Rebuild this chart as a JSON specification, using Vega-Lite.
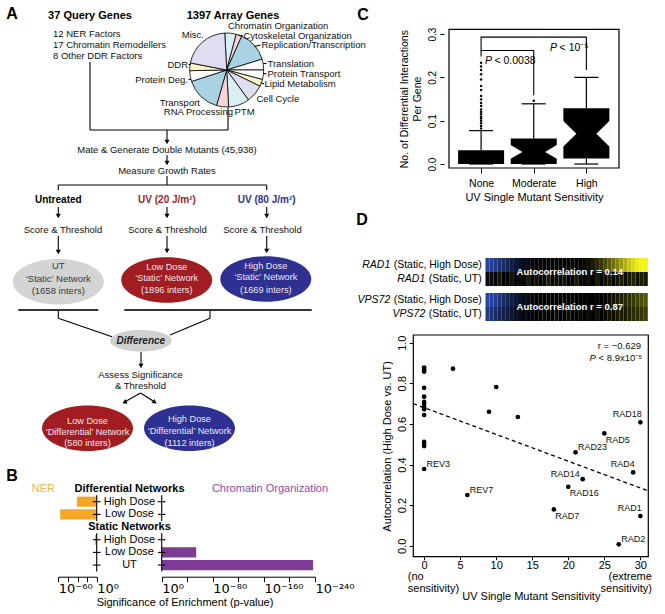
{
"$schema": "https://vega.github.io/schema/vega-lite/v6.json",
"width": 665,
"height": 614,
"autosize": {"type": "none"},
"padding": 0,
"background": "#ffffff",
"config": {
  "font": "Liberation Sans",
  "view": {"stroke": null},
  "axis": {"grid": false, "labelColor": "#000000", "tickColor": "#000000", "domainColor": "#000000", "titleColor": "#000000", "titleFontWeight": "normal", "tickWidth": 1, "domainWidth": 1, "labelFont": "Liberation Sans", "titleFont": "Liberation Sans"},
  "text": {"baseline": "middle", "font": "Liberation Sans"}
},
"resolve": {"scale": {"x": "independent", "y": "independent", "color": "independent", "fill": "independent"}, "axis": {"x": "independent", "y": "independent"}},
"datasets": {
  "pie": [
    {"cat": "Chromatin Organization", "deg": 18, "o": 1},
    {"cat": "Cytoskeletal Organization", "deg": 9, "o": 2},
    {"cat": "Replication/Transcription", "deg": 49, "o": 3},
    {"cat": "Translation", "deg": 17, "o": 4},
    {"cat": "Protein Transport", "deg": 15, "o": 5},
    {"cat": "Lipid Metabolism", "deg": 11, "o": 6},
    {"cat": "Cell Cycle", "deg": 28, "o": 7},
    {"cat": "PTM", "deg": 33, "o": 8},
    {"cat": "RNA Processing", "deg": 19, "o": 9},
    {"cat": "Transport", "deg": 56, "o": 10},
    {"cat": "Protein Deg.", "deg": 17, "o": 11},
    {"cat": "DDR", "deg": 12, "o": 12},
    {"cat": "Misc.", "deg": 76, "o": 13}
  ],
  "flow": [
    {"x": 90, "y": 62, "x2": 90, "y2": 130},
    {"x": 90, "y": 130, "x2": 228, "y2": 130},
    {"x": 228, "y": 107.5, "x2": 228, "y2": 130},
    {"x": 167, "y": 130, "x2": 167, "y2": 140},
    {"x": 167, "y": 155, "x2": 167, "y2": 161},
    {"x": 167, "y": 176, "x2": 167, "y2": 185},
    {"x": 58.3, "y": 185, "x2": 266.7, "y2": 185},
    {"x": 58.3, "y": 185, "x2": 58.3, "y2": 190},
    {"x": 266.7, "y": 185, "x2": 266.7, "y2": 190},
    {"x": 58.3, "y": 207, "x2": 58.3, "y2": 214},
    {"x": 167, "y": 207, "x2": 167, "y2": 214},
    {"x": 266.7, "y": 207, "x2": 266.7, "y2": 214},
    {"x": 58.3, "y": 236, "x2": 58.3, "y2": 250},
    {"x": 167, "y": 236, "x2": 167, "y2": 249},
    {"x": 266.7, "y": 236, "x2": 266.7, "y2": 249},
    {"x": 58.3, "y": 310, "x2": 58.3, "y2": 318.3},
    {"x": 58.3, "y": 318.3, "x2": 112, "y2": 336.7},
    {"x": 210, "y": 310, "x2": 210, "y2": 318.3},
    {"x": 210, "y": 318.3, "x2": 170, "y2": 335},
    {"x": 141, "y": 352, "x2": 141, "y2": 364},
    {"x": 140.5, "y": 393, "x2": 125, "y2": 401.7},
    {"x": 140.5, "y": 393, "x2": 154, "y2": 401.5},
    {"x": 238.5, "y": 35.5, "x2": 242.5, "y2": 35.5},
    {"x": 254.5, "y": 46.5, "x2": 260.5, "y2": 45},
    {"x": 263.3, "y": 63.5, "x2": 266.5, "y2": 63.5},
    {"x": 263.5, "y": 73.5, "x2": 266.5, "y2": 74},
    {"x": 261.5, "y": 83, "x2": 264, "y2": 84},
    {"x": 188.5, "y": 64.5, "x2": 190.5, "y2": 64.5},
    {"x": 188.5, "y": 79.5, "x2": 191, "y2": 79.5}
  ],
  "thick": [
    {"x": 18.3, "y": 310, "x2": 98.3, "y2": 310},
    {"x": 124.3, "y": 310, "x2": 311.7, "y2": 310}
  ],
  "heads": [
    {"x": 167, "y": 142}, {"x": 167, "y": 163},
    {"x": 58.3, "y": 216}, {"x": 167, "y": 216}, {"x": 266.7, "y": 216},
    {"x": 58.3, "y": 252}, {"x": 167, "y": 251}, {"x": 266.7, "y": 251},
    {"x": 141, "y": 366}
  ],
  "ell": [
    {"k": "UT", "x": 58.3, "y": 281.7},
    {"k": "low", "x": 166.7, "y": 280},
    {"k": "high", "x": 265.8, "y": 279},
    {"k": "low", "x": 87.5, "y": 428.3},
    {"k": "high", "x": 189.5, "y": 428.3}
  ],
  "tC": [
    {"x": 167, "y": 150, "t": "Mate & Generate Double Mutants (45,938)"},
    {"x": 167, "y": 171, "t": "Measure Growth Rates"},
    {"x": 63, "y": 230, "t": "Score & Threshold"},
    {"x": 167.5, "y": 230, "t": "Score & Threshold"},
    {"x": 262.5, "y": 230, "t": "Score & Threshold"},
    {"x": 140.5, "y": 375, "t": "Assess Significance"},
    {"x": 140.5, "y": 386, "t": "& Threshold"}
  ],
  "tUT": [
    {"x": 58.3, "y": 266, "t": "UT"},
    {"x": 58.3, "y": 278.5, "t": "‘Static’ Network"},
    {"x": 58.3, "y": 291, "t": "(1658 inters)"}
  ],
  "tL": [
    {"x": 53, "y": 34, "t": "12 NER Factors"},
    {"x": 53, "y": 45, "t": "17 Chromatin Remodellers"},
    {"x": 53, "y": 56, "t": "8 Other DDR Factors"},
    {"x": 228, "y": 26, "t": "Chromatin Organization"},
    {"x": 243.5, "y": 35.5, "t": "Cytoskeletal Organization"},
    {"x": 261.5, "y": 45, "t": "Replication/Transcription"},
    {"x": 267.5, "y": 63.5, "t": "Translation"},
    {"x": 267.5, "y": 74, "t": "Protein Transport"},
    {"x": 264.5, "y": 84, "t": "Lipid Metabolism"},
    {"x": 256.5, "y": 98.5, "t": "Cell Cycle"},
    {"x": 234.5, "y": 112, "t": "PTM"}
  ],
  "tR": [
    {"x": 233, "y": 112, "t": "RNA Processing"},
    {"x": 200, "y": 102.5, "t": "Transport"},
    {"x": 188, "y": 79.5, "t": "Protein Deg."},
    {"x": 188, "y": 64.5, "t": "DDR"},
    {"x": 204, "y": 35, "t": "Misc."}
  ],
  "tW": [
    {"x": 166.7, "y": 266.7, "t": "Low Dose"},
    {"x": 166.7, "y": 278.3, "t": "‘Static’ Network"},
    {"x": 166.7, "y": 290, "t": "(1896 inters)"},
    {"x": 265.8, "y": 265.7, "t": "High Dose"},
    {"x": 265.8, "y": 277.3, "t": "‘Static’ Network"},
    {"x": 265.8, "y": 289.5, "t": "(1669 inters)"},
    {"x": 87.5, "y": 421, "t": "Low Dose"},
    {"x": 87.5, "y": 432.3, "t": "‘Differential’ Network"},
    {"x": 87.5, "y": 443.3, "t": "(580 inters)"},
    {"x": 189.5, "y": 419.3, "t": "High Dose"},
    {"x": 189.5, "y": 430.7, "t": "‘Differential’ Network"},
    {"x": 189.5, "y": 442.5, "t": "(1112 inters)"}
  ],
  "cond": [
    {"x": 58.3, "y": 200, "t": "Untreated"},
    {"x": 167, "y": 200, "t": "UV (20 J/m²)"},
    {"x": 266.7, "y": 200, "t": "UV (80 J/m²)"}
  ],
  "heads2": [
    {"x": 90, "y": 16, "t": "37 Query Genes"},
    {"x": 233, "y": 16, "t": "1397 Array Genes"}
  ],
  "letters": [
    {"x": 12, "y": 14, "t": "A"},
    {"x": 12, "y": 476, "t": "B"},
    {"x": 363, "y": 15, "t": "C"},
    {"x": 362, "y": 220, "t": "D"}
  ],
  "ner": [
    {"row": "dH", "lp": -31}, {"row": "dL", "lp": -57}, {"row": "sH", "lp": -2.5}, {"row": "sL", "lp": 0}, {"row": "UT", "lp": 0}
  ],
  "chrom": [
    {"row": "dH", "lp": 0}, {"row": "dL", "lp": 0}, {"row": "sH", "lp": 0}, {"row": "sL", "lp": -54}, {"row": "UT", "lp": -237}
  ],
  "box": [
    {"g": 1, "q1": 0, "q3": 0.032, "med": 0, "lo": 0, "hi": 0.077},
    {"g": 2, "q1": 0, "q3": 0.059, "med": 0.028, "lo": 0, "hi": 0.139},
    {"g": 3, "q1": 0.013, "q3": 0.129, "med": 0.07, "lo": 0, "hi": 0.2}
  ],
  "out": [
    {"g": 1, "v": 0.234}, {"g": 1, "v": 0.225}, {"g": 1, "v": 0.217}, {"g": 1, "v": 0.207}, {"g": 1, "v": 0.195},
    {"g": 1, "v": 0.18}, {"g": 1, "v": 0.171}, {"g": 1, "v": 0.157}, {"g": 1, "v": 0.149}, {"g": 1, "v": 0.141},
    {"g": 1, "v": 0.134}, {"g": 1, "v": 0.126}, {"g": 1, "v": 0.12}, {"g": 1, "v": 0.115}, {"g": 1, "v": 0.109},
    {"g": 1, "v": 0.105}, {"g": 1, "v": 0.1}, {"g": 1, "v": 0.094}, {"g": 1, "v": 0.088}, {"g": 1, "v": 0.082},
    {"g": 2, "v": 0.146}
  ],
  "brk": [
    {"b": "a", "o": 1, "x": 1, "y": 0.262}, {"b": "a", "o": 2, "x": 1, "y": 0.293}, {"b": "a", "o": 3, "x": 3, "y": 0.293}, {"b": "a", "o": 4, "x": 3, "y": 0.217},
    {"b": "b", "o": 1, "x": 1, "y": 0.248}, {"b": "b", "o": 2, "x": 1, "y": 0.262}, {"b": "b", "o": 3, "x": 2, "y": 0.262}, {"b": "b", "o": 4, "x": 2, "y": 0.159}
  ],
  "ptxt": [
    {"x": 1.072, "y": 0.238, "t": "< 0.0038"},
    {"x": 2.311, "y": 0.267, "t": "< 10⁻⁵"}
  ],
  "lab": [
    {"g": "RAD1", "c": "High", "name": "RAD1", "suf": "(Static, High Dose)"},
    {"g": "RAD1", "c": "UT", "name": "RAD1", "suf": "(Static, UT)"},
    {"g": "VPS72", "c": "High", "name": "VPS72", "suf": "(Static, High Dose)"},
    {"g": "VPS72", "c": "UT", "name": "VPS72", "suf": "(Static, UT)"}
  ],
  "hm": [
    {"g":"RAD1","c":"High","i":0,"v":-0.95},{"g":"RAD1","c":"High","i":1,"v":-0.9},{"g":"RAD1","c":"High","i":2,"v":-0.8},{"g":"RAD1","c":"High","i":3,"v":-0.7},{"g":"RAD1","c":"High","i":4,"v":-0.6},
    {"g":"RAD1","c":"High","i":5,"v":-0.5},{"g":"RAD1","c":"High","i":6,"v":-0.4},{"g":"RAD1","c":"High","i":7,"v":-0.32},{"g":"RAD1","c":"High","i":8,"v":-0.25},{"g":"RAD1","c":"High","i":9,"v":-0.18},
    {"g":"RAD1","c":"High","i":10,"v":-0.12},{"g":"RAD1","c":"High","i":11,"v":-0.07},{"g":"RAD1","c":"High","i":12,"v":-0.03},{"g":"RAD1","c":"High","i":13,"v":0},{"g":"RAD1","c":"High","i":14,"v":0},
    {"g":"RAD1","c":"High","i":15,"v":0},{"g":"RAD1","c":"High","i":16,"v":0},{"g":"RAD1","c":"High","i":17,"v":0},{"g":"RAD1","c":"High","i":18,"v":0},{"g":"RAD1","c":"High","i":19,"v":0},
    {"g":"RAD1","c":"High","i":20,"v":0},{"g":"RAD1","c":"High","i":21,"v":0},{"g":"RAD1","c":"High","i":22,"v":0},{"g":"RAD1","c":"High","i":23,"v":0},{"g":"RAD1","c":"High","i":24,"v":0.03},
    {"g":"RAD1","c":"High","i":25,"v":0.07},{"g":"RAD1","c":"High","i":26,"v":0.12},{"g":"RAD1","c":"High","i":27,"v":0.17},{"g":"RAD1","c":"High","i":28,"v":0.23},{"g":"RAD1","c":"High","i":29,"v":0.3},
    {"g":"RAD1","c":"High","i":30,"v":0.38},{"g":"RAD1","c":"High","i":31,"v":0.46},{"g":"RAD1","c":"High","i":32,"v":0.55},{"g":"RAD1","c":"High","i":33,"v":0.64},{"g":"RAD1","c":"High","i":34,"v":0.73},
    {"g":"RAD1","c":"High","i":35,"v":0.82},{"g":"RAD1","c":"High","i":36,"v":0.9},{"g":"RAD1","c":"High","i":37,"v":0.96},{"g":"RAD1","c":"High","i":38,"v":1},{"g":"RAD1","c":"High","i":39,"v":1},
    {"g":"RAD1","c":"UT","i":0,"v":-0.12},{"g":"RAD1","c":"UT","i":1,"v":0.05},{"g":"RAD1","c":"UT","i":2,"v":-0.08},{"g":"RAD1","c":"UT","i":3,"v":0.1},{"g":"RAD1","c":"UT","i":4,"v":0},
    {"g":"RAD1","c":"UT","i":5,"v":-0.06},{"g":"RAD1","c":"UT","i":6,"v":0.08},{"g":"RAD1","c":"UT","i":7,"v":-0.1},{"g":"RAD1","c":"UT","i":8,"v":0.04},{"g":"RAD1","c":"UT","i":9,"v":0},
    {"g":"RAD1","c":"UT","i":10,"v":0.1},{"g":"RAD1","c":"UT","i":11,"v":-0.05},{"g":"RAD1","c":"UT","i":12,"v":0.06},{"g":"RAD1","c":"UT","i":13,"v":0},{"g":"RAD1","c":"UT","i":14,"v":-0.08},
    {"g":"RAD1","c":"UT","i":15,"v":0.12},{"g":"RAD1","c":"UT","i":16,"v":0},{"g":"RAD1","c":"UT","i":17,"v":0.05},{"g":"RAD1","c":"UT","i":18,"v":-0.1},{"g":"RAD1","c":"UT","i":19,"v":0.08},
    {"g":"RAD1","c":"UT","i":20,"v":0},{"g":"RAD1","c":"UT","i":21,"v":-0.06},{"g":"RAD1","c":"UT","i":22,"v":0.1},{"g":"RAD1","c":"UT","i":23,"v":0.03},{"g":"RAD1","c":"UT","i":24,"v":-0.08},
    {"g":"RAD1","c":"UT","i":25,"v":0.07},{"g":"RAD1","c":"UT","i":26,"v":0},{"g":"RAD1","c":"UT","i":27,"v":0.12},{"g":"RAD1","c":"UT","i":28,"v":-0.05},{"g":"RAD1","c":"UT","i":29,"v":0.06},
    {"g":"RAD1","c":"UT","i":30,"v":0.1},{"g":"RAD1","c":"UT","i":31,"v":-0.04},{"g":"RAD1","c":"UT","i":32,"v":0.08},{"g":"RAD1","c":"UT","i":33,"v":0.12},{"g":"RAD1","c":"UT","i":34,"v":0.05},
    {"g":"RAD1","c":"UT","i":35,"v":0.1},{"g":"RAD1","c":"UT","i":36,"v":0.14},{"g":"RAD1","c":"UT","i":37,"v":0.08},{"g":"RAD1","c":"UT","i":38,"v":0.12},{"g":"RAD1","c":"UT","i":39,"v":0.1},
    {"g":"VPS72","c":"High","i":0,"v":-1},{"g":"VPS72","c":"High","i":1,"v":-0.95},{"g":"VPS72","c":"High","i":2,"v":-0.85},{"g":"VPS72","c":"High","i":3,"v":-0.72},{"g":"VPS72","c":"High","i":4,"v":-0.6},
    {"g":"VPS72","c":"High","i":5,"v":-0.5},{"g":"VPS72","c":"High","i":6,"v":-0.4},{"g":"VPS72","c":"High","i":7,"v":-0.32},{"g":"VPS72","c":"High","i":8,"v":-0.25},{"g":"VPS72","c":"High","i":9,"v":-0.18},
    {"g":"VPS72","c":"High","i":10,"v":-0.12},{"g":"VPS72","c":"High","i":11,"v":-0.08},{"g":"VPS72","c":"High","i":12,"v":-0.05},{"g":"VPS72","c":"High","i":13,"v":-0.02},{"g":"VPS72","c":"High","i":14,"v":0},
    {"g":"VPS72","c":"High","i":15,"v":0},{"g":"VPS72","c":"High","i":16,"v":0},{"g":"VPS72","c":"High","i":17,"v":0},{"g":"VPS72","c":"High","i":18,"v":0},{"g":"VPS72","c":"High","i":19,"v":0},
    {"g":"VPS72","c":"High","i":20,"v":0},{"g":"VPS72","c":"High","i":21,"v":0},{"g":"VPS72","c":"High","i":22,"v":0},{"g":"VPS72","c":"High","i":23,"v":0},{"g":"VPS72","c":"High","i":24,"v":0},
    {"g":"VPS72","c":"High","i":25,"v":0},{"g":"VPS72","c":"High","i":26,"v":0},{"g":"VPS72","c":"High","i":27,"v":0},{"g":"VPS72","c":"High","i":28,"v":0},{"g":"VPS72","c":"High","i":29,"v":0.02},
    {"g":"VPS72","c":"High","i":30,"v":0.05},{"g":"VPS72","c":"High","i":31,"v":0.08},{"g":"VPS72","c":"High","i":32,"v":0.11},{"g":"VPS72","c":"High","i":33,"v":0.14},{"g":"VPS72","c":"High","i":34,"v":0.17},
    {"g":"VPS72","c":"High","i":35,"v":0.2},{"g":"VPS72","c":"High","i":36,"v":0.24},{"g":"VPS72","c":"High","i":37,"v":0.28},{"g":"VPS72","c":"High","i":38,"v":0.32},{"g":"VPS72","c":"High","i":39,"v":0.36},
    {"g":"VPS72","c":"UT","i":0,"v":-0.8},{"g":"VPS72","c":"UT","i":1,"v":-0.7},{"g":"VPS72","c":"UT","i":2,"v":-0.6},{"g":"VPS72","c":"UT","i":3,"v":-0.52},{"g":"VPS72","c":"UT","i":4,"v":-0.45},
    {"g":"VPS72","c":"UT","i":5,"v":-0.38},{"g":"VPS72","c":"UT","i":6,"v":-0.3},{"g":"VPS72","c":"UT","i":7,"v":-0.24},{"g":"VPS72","c":"UT","i":8,"v":-0.18},{"g":"VPS72","c":"UT","i":9,"v":-0.13},
    {"g":"VPS72","c":"UT","i":10,"v":-0.09},{"g":"VPS72","c":"UT","i":11,"v":-0.06},{"g":"VPS72","c":"UT","i":12,"v":-0.03},{"g":"VPS72","c":"UT","i":13,"v":0},{"g":"VPS72","c":"UT","i":14,"v":0.04},
    {"g":"VPS72","c":"UT","i":15,"v":-0.05},{"g":"VPS72","c":"UT","i":16,"v":0},{"g":"VPS72","c":"UT","i":17,"v":0.06},{"g":"VPS72","c":"UT","i":18,"v":-0.04},{"g":"VPS72","c":"UT","i":19,"v":0},
    {"g":"VPS72","c":"UT","i":20,"v":0.05},{"g":"VPS72","c":"UT","i":21,"v":0},{"g":"VPS72","c":"UT","i":22,"v":-0.06},{"g":"VPS72","c":"UT","i":23,"v":0.04},{"g":"VPS72","c":"UT","i":24,"v":0},
    {"g":"VPS72","c":"UT","i":25,"v":0.05},{"g":"VPS72","c":"UT","i":26,"v":-0.03},{"g":"VPS72","c":"UT","i":27,"v":0.06},{"g":"VPS72","c":"UT","i":28,"v":0},{"g":"VPS72","c":"UT","i":29,"v":0.04},
    {"g":"VPS72","c":"UT","i":30,"v":0.08},{"g":"VPS72","c":"UT","i":31,"v":0.05},{"g":"VPS72","c":"UT","i":32,"v":0.1},{"g":"VPS72","c":"UT","i":33,"v":0.12},{"g":"VPS72","c":"UT","i":34,"v":0.1},
    {"g":"VPS72","c":"UT","i":35,"v":0.15},{"g":"VPS72","c":"UT","i":36,"v":0.18},{"g":"VPS72","c":"UT","i":37,"v":0.2},{"g":"VPS72","c":"UT","i":38,"v":0.22},{"g":"VPS72","c":"UT","i":39,"v":0.25}
  ],
  "sc": [
    {"sens": 0, "ac": 0.878, "gene": ""}, {"sens": 0, "ac": 0.868, "gene": ""}, {"sens": 0, "ac": 0.858, "gene": ""},
    {"sens": 0, "ac": 0.778, "gene": ""}, {"sens": 0, "ac": 0.734, "gene": ""}, {"sens": 0, "ac": 0.709, "gene": ""},
    {"sens": 0, "ac": 0.698, "gene": ""}, {"sens": 0, "ac": 0.682, "gene": ""}, {"sens": 0, "ac": 0.672, "gene": ""},
    {"sens": 0, "ac": 0.644, "gene": ""}, {"sens": 0, "ac": 0.512, "gene": ""}, {"sens": 0, "ac": 0.501, "gene": ""},
    {"sens": 0, "ac": 0.491, "gene": ""},
    {"sens": 4, "ac": 0.872, "gene": ""}, {"sens": 10, "ac": 0.782, "gene": ""}, {"sens": 9, "ac": 0.66, "gene": ""}, {"sens": 13, "ac": 0.634, "gene": ""},
    {"sens": 0, "ac": 0.378, "gene": "REV3"},
    {"sens": 6, "ac": 0.25, "gene": "REV7"},
    {"sens": 18, "ac": 0.179, "gene": "RAD7"},
    {"sens": 20, "ac": 0.29, "gene": "RAD16"},
    {"sens": 22, "ac": 0.328, "gene": "RAD14"},
    {"sens": 21, "ac": 0.46, "gene": "RAD23"},
    {"sens": 25, "ac": 0.553, "gene": "RAD5"},
    {"sens": 30, "ac": 0.608, "gene": "RAD18"},
    {"sens": 29, "ac": 0.361, "gene": "RAD4"},
    {"sens": 30, "ac": 0.146, "gene": "RAD1"},
    {"sens": 27, "ac": 0.007, "gene": "RAD2"}
  ],
  "fit": [{"sens": -1.5, "ac": 0.70}, {"sens": 31.1, "ac": 0.27}]
},
"layer": [
  {"layer": [
    {"data": {"name": "pie"}, "mark": {"type": "arc", "radius": 37, "stroke": "#000000", "strokeWidth": 0.8},
     "encoding": {
       "theta": {"field": "deg", "type": "quantitative", "scale": {"range": [-0.0524, 6.2308]}},
       "order": {"field": "o", "type": "quantitative"},
       "fill": {"field": "cat", "type": "nominal", "legend": null, "scale": {"domain": ["Chromatin Organization","Cytoskeletal Organization","Replication/Transcription","Translation","Protein Transport","Lipid Metabolism","Cell Cycle","PTM","RNA Processing","Transport","Protein Deg.","DDR","Misc."], "range": ["#dbedf5","#f6d3d6","#a9d3e3","#ffffff","#ffffff","#faf4c8","#dedef0","#dbedf5","#f6d3d6","#a9d3e3","#ffffff","#faf4c8","#dedef0"]}},
       "x": {"datum": 226.7, "type": "quantitative", "scale": {"domain": [0, 665], "range": [0, 665], "nice": false, "zero": false}, "axis": null},
       "y": {"datum": 70, "type": "quantitative", "scale": {"domain": [0, 614], "range": [0, 614], "nice": false, "zero": false}, "axis": null}}},
    {"data": {"name": "flow"}, "mark": {"type": "rule", "color": "#000000", "strokeWidth": 1.1},
     "encoding": {"x": {"field": "x", "type": "quantitative", "scale": {"domain": [0, 665], "range": [0, 665], "nice": false, "zero": false}, "axis": null},
                  "y": {"field": "y", "type": "quantitative", "scale": {"domain": [0, 614], "range": [0, 614], "nice": false, "zero": false}, "axis": null},
                  "x2": {"field": "x2"}, "y2": {"field": "y2"}}},
    {"data": {"name": "thick"}, "mark": {"type": "rule", "color": "#333333", "strokeWidth": 2.2},
     "encoding": {"x": {"field": "x", "type": "quantitative", "scale": {"domain": [0, 665], "range": [0, 665], "nice": false, "zero": false}, "axis": null},
                  "y": {"field": "y", "type": "quantitative", "scale": {"domain": [0, 614], "range": [0, 614], "nice": false, "zero": false}, "axis": null},
                  "x2": {"field": "x2"}, "y2": {"field": "y2"}}},
    {"data": {"name": "heads"}, "mark": {"type": "point", "shape": "triangle-down", "filled": true, "color": "#000000", "size": 26, "opacity": 1},
     "encoding": {"x": {"field": "x", "type": "quantitative", "scale": {"domain": [0, 665], "range": [0, 665], "nice": false, "zero": false}, "axis": null},
                  "y": {"field": "y", "type": "quantitative", "scale": {"domain": [0, 614], "range": [0, 614], "nice": false, "zero": false}, "axis": null}}},
    {"data": {"values": [{"x": 124.5, "y": 402.3}]}, "mark": {"type": "point", "shape": "triangle-down", "filled": true, "color": "#000000", "size": 26, "opacity": 1, "angle": 60},
     "encoding": {"x": {"field": "x", "type": "quantitative", "scale": {"domain": [0, 665], "range": [0, 665], "nice": false, "zero": false}, "axis": null},
                  "y": {"field": "y", "type": "quantitative", "scale": {"domain": [0, 614], "range": [0, 614], "nice": false, "zero": false}, "axis": null}}},
    {"data": {"values": [{"x": 154.8, "y": 402.3}]}, "mark": {"type": "point", "shape": "triangle-down", "filled": true, "color": "#000000", "size": 26, "opacity": 1, "angle": -54},
     "encoding": {"x": {"field": "x", "type": "quantitative", "scale": {"domain": [0, 665], "range": [0, 665], "nice": false, "zero": false}, "axis": null},
                  "y": {"field": "y", "type": "quantitative", "scale": {"domain": [0, 614], "range": [0, 614], "nice": false, "zero": false}, "axis": null}}},
    {"data": {"name": "ell"}, "transform": [{"filter": "datum.k == 'UT'"}],
     "mark": {"type": "point", "shape": "M-1,0C-1,-0.276,-0.552,-0.5,0,-0.5C0.552,-0.5,1,-0.276,1,0C1,0.276,0.552,0.5,0,0.5C-0.552,0.5,-1,0.276,-1,0Z", "filled": true, "color": "#d4d4d4", "size": 8281, "opacity": 1, "strokeWidth": 0},
     "encoding": {"x": {"field": "x", "type": "quantitative", "scale": {"domain": [0, 665], "range": [0, 665], "nice": false, "zero": false}, "axis": null},
                  "y": {"field": "y", "type": "quantitative", "scale": {"domain": [0, 614], "range": [0, 614], "nice": false, "zero": false}, "axis": null}}},
    {"data": {"name": "ell"}, "transform": [{"filter": "datum.k == 'low'"}],
     "mark": {"type": "point", "shape": "M-1,0C-1,-0.276,-0.552,-0.5,0,-0.5C0.552,-0.5,1,-0.276,1,0C1,0.276,0.552,0.5,0,0.5C-0.552,0.5,-1,0.276,-1,0Z", "filled": true, "color": "#a11d22", "size": 8281, "opacity": 1, "strokeWidth": 0},
     "encoding": {"x": {"field": "x", "type": "quantitative", "scale": {"domain": [0, 665], "range": [0, 665], "nice": false, "zero": false}, "axis": null},
                  "y": {"field": "y", "type": "quantitative", "scale": {"domain": [0, 614], "range": [0, 614], "nice": false, "zero": false}, "axis": null}}},
    {"data": {"name": "ell"}, "transform": [{"filter": "datum.k == 'high'"}],
     "mark": {"type": "point", "shape": "M-1,0C-1,-0.276,-0.552,-0.5,0,-0.5C0.552,-0.5,1,-0.276,1,0C1,0.276,0.552,0.5,0,0.5C-0.552,0.5,-1,0.276,-1,0Z", "filled": true, "color": "#2e3192", "size": 8281, "opacity": 1, "strokeWidth": 0},
     "encoding": {"x": {"field": "x", "type": "quantitative", "scale": {"domain": [0, 665], "range": [0, 665], "nice": false, "zero": false}, "axis": null},
                  "y": {"field": "y", "type": "quantitative", "scale": {"domain": [0, 614], "range": [0, 614], "nice": false, "zero": false}, "axis": null}}},
    {"data": {"values": [{"x": 140.8, "y": 340.8, "t": "Difference"}]},
     "mark": {"type": "point", "shape": "M-1,0C-1,-0.193,-0.552,-0.35,0,-0.35C0.552,-0.35,1,-0.193,1,0C1,0.193,0.552,0.35,0,0.35C-0.552,0.35,-1,0.193,-1,0Z", "filled": true, "color": "#d0d0d0", "size": 3807, "opacity": 1, "strokeWidth": 0},
     "encoding": {"x": {"field": "x", "type": "quantitative", "scale": {"domain": [0, 665], "range": [0, 665], "nice": false, "zero": false}, "axis": null},
                  "y": {"field": "y", "type": "quantitative", "scale": {"domain": [0, 614], "range": [0, 614], "nice": false, "zero": false}, "axis": null}}},
    {"data": {"values": [{"x": 140.8, "y": 341, "t": "Difference"}]},
     "mark": {"type": "text", "fontSize": 10, "fontWeight": "bold", "fontStyle": "italic", "color": "#222222"},
     "encoding": {"x": {"field": "x", "type": "quantitative", "scale": {"domain": [0, 665], "range": [0, 665], "nice": false, "zero": false}, "axis": null},
                  "y": {"field": "y", "type": "quantitative", "scale": {"domain": [0, 614], "range": [0, 614], "nice": false, "zero": false}, "axis": null},
                  "text": {"field": "t"}}},
    {"data": {"name": "tC"}, "mark": {"type": "text", "fontSize": 9.5, "color": "#111111"},
     "encoding": {"x": {"field": "x", "type": "quantitative", "scale": {"domain": [0, 665], "range": [0, 665], "nice": false, "zero": false}, "axis": null},
                  "y": {"field": "y", "type": "quantitative", "scale": {"domain": [0, 614], "range": [0, 614], "nice": false, "zero": false}, "axis": null},
                  "text": {"field": "t"}}},
    {"data": {"name": "tUT"}, "mark": {"type": "text", "fontSize": 9.5, "color": "#3a3a3a"},
     "encoding": {"x": {"field": "x", "type": "quantitative", "scale": {"domain": [0, 665], "range": [0, 665], "nice": false, "zero": false}, "axis": null},
                  "y": {"field": "y", "type": "quantitative", "scale": {"domain": [0, 614], "range": [0, 614], "nice": false, "zero": false}, "axis": null},
                  "text": {"field": "t"}}},
    {"data": {"name": "tL"}, "mark": {"type": "text", "fontSize": 9.5, "align": "left", "color": "#111111"},
     "encoding": {"x": {"field": "x", "type": "quantitative", "scale": {"domain": [0, 665], "range": [0, 665], "nice": false, "zero": false}, "axis": null},
                  "y": {"field": "y", "type": "quantitative", "scale": {"domain": [0, 614], "range": [0, 614], "nice": false, "zero": false}, "axis": null},
                  "text": {"field": "t"}}},
    {"data": {"name": "tR"}, "mark": {"type": "text", "fontSize": 9.5, "align": "right", "color": "#111111"},
     "encoding": {"x": {"field": "x", "type": "quantitative", "scale": {"domain": [0, 665], "range": [0, 665], "nice": false, "zero": false}, "axis": null},
                  "y": {"field": "y", "type": "quantitative", "scale": {"domain": [0, 614], "range": [0, 614], "nice": false, "zero": false}, "axis": null},
                  "text": {"field": "t"}}},
    {"data": {"name": "tW"}, "mark": {"type": "text", "fontSize": 9.2, "color": "#f1e3ea"},
     "encoding": {"x": {"field": "x", "type": "quantitative", "scale": {"domain": [0, 665], "range": [0, 665], "nice": false, "zero": false}, "axis": null},
                  "y": {"field": "y", "type": "quantitative", "scale": {"domain": [0, 614], "range": [0, 614], "nice": false, "zero": false}, "axis": null},
                  "text": {"field": "t"}}},
    {"data": {"name": "cond"}, "mark": {"type": "text", "fontSize": 10, "fontWeight": "bold"},
     "encoding": {"x": {"field": "x", "type": "quantitative", "scale": {"domain": [0, 665], "range": [0, 665], "nice": false, "zero": false}, "axis": null},
                  "y": {"field": "y", "type": "quantitative", "scale": {"domain": [0, 614], "range": [0, 614], "nice": false, "zero": false}, "axis": null},
                  "text": {"field": "t"},
                  "color": {"field": "t", "type": "nominal", "legend": null, "scale": {"domain": ["Untreated", "UV (20 J/m²)", "UV (80 J/m²)"], "range": ["#000000", "#a11d22", "#2e3192"]}}}},
    {"data": {"name": "heads2"}, "mark": {"type": "text", "fontSize": 11, "fontWeight": "bold", "color": "#000000"},
     "encoding": {"x": {"field": "x", "type": "quantitative", "scale": {"domain": [0, 665], "range": [0, 665], "nice": false, "zero": false}, "axis": null},
                  "y": {"field": "y", "type": "quantitative", "scale": {"domain": [0, 614], "range": [0, 614], "nice": false, "zero": false}, "axis": null},
                  "text": {"field": "t"}}},
    {"data": {"name": "letters"}, "mark": {"type": "text", "fontSize": 16, "fontWeight": "bold", "color": "#000000"},
     "encoding": {"x": {"field": "x", "type": "quantitative", "scale": {"domain": [0, 665], "range": [0, 665], "nice": false, "zero": false}, "axis": null},
                  "y": {"field": "y", "type": "quantitative", "scale": {"domain": [0, 614], "range": [0, 614], "nice": false, "zero": false}, "axis": null},
                  "text": {"field": "t"}}},
    {"data": {"values": [{"x": 185, "y": 603, "t": "Significance of Enrichment (p-value)"}]}, "mark": {"type": "text", "fontSize": 11, "color": "#000000"},
     "encoding": {"x": {"field": "x", "type": "quantitative", "scale": {"domain": [0, 665], "range": [0, 665], "nice": false, "zero": false}, "axis": null},
                  "y": {"field": "y", "type": "quantitative", "scale": {"domain": [0, 614], "range": [0, 614], "nice": false, "zero": false}, "axis": null},
                  "text": {"field": "t"}}}
  ]},
  {"layer": [
    {"data": {"name": "ner"}, "mark": {"type": "bar", "color": "#f6a623"},
     "encoding": {
       "x": {"field": "lp", "type": "quantitative", "scale": {"domain": [-60, 0], "range": [58.3, 96.7], "nice": false, "zero": false},
             "axis": {"orient": "bottom", "offset": -37.3, "values": [-60, -45, -30, -15, 0], "labelExpr": "datum.value == -60 ? '10⁻⁶⁰' : datum.value == 0 ? '10⁰' : ''", "labelFont": "DejaVu Sans", "labelFontSize": 13, "labelAlign": "left", "labelDx": -8.5, "labelPadding": 1, "tickSize": 5, "title": null, "labelOverlap": false, "labelFlush": false}},
       "y": {"field": "row", "type": "nominal", "scale": {"domain": ["h1", "dH", "dL", "h2", "sH", "sL", "UT"], "range": [482.7, 571.4], "paddingInner": 0.2, "paddingOuter": 0.1}, "axis": null}}},
    {"data": {"name": "ner"}, "mark": {"type": "rule", "color": "#000000", "strokeWidth": 1.1},
     "encoding": {
       "x": {"datum": -6, "type": "quantitative", "scale": {"domain": [-60, 0], "range": [58.3, 96.7], "nice": false, "zero": false}},
       "x2": {"datum": 6},
       "y": {"field": "row", "type": "nominal", "scale": {"domain": ["h1", "dH", "dL", "h2", "sH", "sL", "UT"], "range": [482.7, 571.4], "paddingInner": 0.2, "paddingOuter": 0.1}, "axis": null}}},
    {"data": {"name": "ner"}, "mark": {"type": "tick", "color": "#000000", "thickness": 1.1, "size": 13, "opacity": 1},
     "encoding": {
       "x": {"datum": 0, "type": "quantitative", "scale": {"domain": [-60, 0], "range": [58.3, 96.7], "nice": false, "zero": false}},
       "y": {"field": "row", "type": "nominal", "scale": {"domain": ["h1", "dH", "dL", "h2", "sH", "sL", "UT"], "range": [482.7, 571.4], "paddingInner": 0.2, "paddingOuter": 0.1}, "axis": null}}},
    {"data": {"values": [{"row": "h1", "t": "NER"}]}, "mark": {"type": "text", "color": "#f7b548", "fontSize": 11},
     "encoding": {
       "x": {"datum": -83.4, "type": "quantitative", "scale": {"domain": [-60, 0], "range": [58.3, 96.7], "nice": false, "zero": false}},
       "y": {"field": "row", "type": "nominal", "scale": {"domain": ["h1", "dH", "dL", "h2", "sH", "sL", "UT"], "range": [482.7, 571.4], "paddingInner": 0.2, "paddingOuter": 0.1}, "axis": null},
       "text": {"field": "t"}}}
  ]},
  {"layer": [
    {"data": {"name": "chrom"}, "mark": {"type": "bar", "color": "#7e3b96"},
     "encoding": {
       "x": {"field": "lp", "type": "quantitative", "scale": {"domain": [0, -240], "range": [161.7, 315], "nice": false, "zero": false},
             "axis": {"orient": "bottom", "offset": -37.3, "values": [0, -40, -80, -120, -160, -200, -240], "labelExpr": "datum.value == 0 ? '10⁰' : datum.value == -80 ? '10⁻⁸⁰' : datum.value == -160 ? '10⁻¹⁶⁰' : datum.value == -240 ? '10⁻²⁴⁰' : ''", "labelFont": "DejaVu Sans", "labelFontSize": 13, "labelAlign": "left", "labelDx": -8.5, "labelPadding": 1, "tickSize": 5, "title": null, "labelOverlap": false, "labelFlush": false}},
       "y": {"field": "row", "type": "nominal", "scale": {"domain": ["h1", "dH", "dL", "h2", "sH", "sL", "UT"], "range": [482.7, 571.4], "paddingInner": 0.2, "paddingOuter": 0.1},
             "axis": {"orient": "left", "offset": -161.7, "domain": false, "ticks": false, "tickSize": 0, "labelPadding": 32.7, "labelAlign": "center", "labelBaseline": "middle", "labelFontSize": 11, "title": null,
                      "labelExpr": "datum.value == 'h1' ? 'Differential Networks' : datum.value == 'h2' ? 'Static Networks' : (datum.value == 'dH' || datum.value == 'sH') ? 'High Dose' : (datum.value == 'dL' || datum.value == 'sL') ? 'Low Dose' : 'UT'",
                      "labelFontWeight": {"condition": {"test": "datum.value == 'h1' || datum.value == 'h2'", "value": "bold"}, "value": "normal"}}}}},
    {"data": {"name": "chrom"}, "mark": {"type": "rule", "color": "#000000", "strokeWidth": 1.1},
     "encoding": {
       "x": {"datum": -6, "type": "quantitative", "scale": {"domain": [0, -240], "range": [161.7, 315], "nice": false, "zero": false}},
       "x2": {"datum": 6},
       "y": {"field": "row", "type": "nominal", "scale": {"domain": ["h1", "dH", "dL", "h2", "sH", "sL", "UT"], "range": [482.7, 571.4], "paddingInner": 0.2, "paddingOuter": 0.1}}}},
    {"data": {"name": "chrom"}, "mark": {"type": "tick", "color": "#000000", "thickness": 1.1, "size": 13, "opacity": 1},
     "encoding": {
       "x": {"datum": 0, "type": "quantitative", "scale": {"domain": [0, -240], "range": [161.7, 315], "nice": false, "zero": false}},
       "y": {"field": "row", "type": "nominal", "scale": {"domain": ["h1", "dH", "dL", "h2", "sH", "sL", "UT"], "range": [482.7, 571.4], "paddingInner": 0.2, "paddingOuter": 0.1}}}},
    {"data": {"values": [{"row": "h1", "t": "Chromatin Organization"}]}, "mark": {"type": "text", "color": "#8a4cae", "fontSize": 11},
     "encoding": {
       "x": {"datum": -169.5, "type": "quantitative", "scale": {"domain": [0, -240], "range": [161.7, 315], "nice": false, "zero": false}},
       "y": {"field": "row", "type": "nominal", "scale": {"domain": ["h1", "dH", "dL", "h2", "sH", "sL", "UT"], "range": [482.7, 571.4], "paddingInner": 0.2, "paddingOuter": 0.1}},
       "text": {"field": "t"}}}
  ]},
  {"layer": [
    {"data": {"values": [{}]}, "mark": {"type": "rect", "fillOpacity": 0, "stroke": "#000000", "strokeWidth": 1.2},
     "encoding": {
       "x": {"datum": 0.39, "type": "quantitative", "scale": {"domain": [0.39, 3.62], "range": [444, 624], "nice": false, "zero": false}},
       "x2": {"datum": 3.62},
       "y": {"datum": -0.0092, "type": "quantitative", "scale": {"domain": [-0.0092, 0.311], "range": [168, 29.3], "nice": false, "zero": false}},
       "y2": {"datum": 0.311}}},
    {"data": {"name": "box"}, "mark": {"type": "bar", "color": "#000000", "width": 46},
     "encoding": {
       "x": {"field": "g", "type": "quantitative", "scale": {"domain": [0.39, 3.62], "range": [444, 624], "nice": false, "zero": false},
             "axis": {"orient": "bottom", "offset": -446, "values": [1, 2, 3], "labelExpr": "datum.value == 1 ? 'None' : datum.value == 2 ? 'Moderate' : 'High'", "domain": false, "tickSize": 5, "labelPadding": 5, "labelFontSize": 10.5, "title": "UV Single Mutant Sensitivity", "titleFontSize": 11, "titlePadding": 3}},
       "y": {"field": "q1", "type": "quantitative", "scale": {"domain": [-0.0092, 0.311], "range": [168, 29.3], "nice": false, "zero": false},
             "axis": {"orient": "left", "offset": -444, "values": [0, 0.1, 0.2, 0.3], "format": ".1f", "domain": false, "tickSize": 4, "labelAngle": -90, "labelAlign": "center", "labelBaseline": "bottom", "labelPadding": 3, "labelFontSize": 10, "title": ["No. of Differential Interactions", "Per Gene"], "titleFontSize": 10.5, "titlePadding": 5}},
       "y2": {"field": "q3"}}},
    {"data": {"name": "box"}, "mark": {"type": "rule", "color": "#000000", "strokeWidth": 1.2},
     "encoding": {
       "x": {"field": "g", "type": "quantitative", "scale": {"domain": [0.39, 3.62], "range": [444, 624], "nice": false, "zero": false}},
       "y": {"field": "q3", "type": "quantitative", "scale": {"domain": [-0.0092, 0.311], "range": [168, 29.3], "nice": false, "zero": false}},
       "y2": {"field": "hi"}}},
    {"data": {"name": "box"}, "mark": {"type": "rule", "color": "#000000", "strokeWidth": 1.2},
     "encoding": {
       "x": {"field": "g", "type": "quantitative", "scale": {"domain": [0.39, 3.62], "range": [444, 624], "nice": false, "zero": false}},
       "y": {"field": "lo", "type": "quantitative", "scale": {"domain": [-0.0092, 0.311], "range": [168, 29.3], "nice": false, "zero": false}},
       "y2": {"field": "q1"}}},
    {"data": {"name": "box"}, "transform": [{"fold": ["hi", "lo"], "as": ["w", "wv"]}],
     "mark": {"type": "point", "shape": "M-12,0L12,0", "filled": false, "stroke": "#000000", "strokeWidth": 1.2, "size": 4, "opacity": 1},
     "encoding": {
       "x": {"field": "g", "type": "quantitative", "scale": {"domain": [0.39, 3.62], "range": [444, 624], "nice": false, "zero": false}},
       "y": {"field": "wv", "type": "quantitative", "scale": {"domain": [-0.0092, 0.311], "range": [168, 29.3], "nice": false, "zero": false}}}},
    {"data": {"name": "box"}, "transform": [{"filter": "datum.g == 2"}],
     "mark": {"type": "point", "shape": "M-23.5,-7.2L-11.3,0L-23.5,7.2ZM23.5,-7.2L11.3,0L23.5,7.2Z", "filled": true, "color": "#ffffff", "size": 4, "opacity": 1, "strokeWidth": 0},
     "encoding": {
       "x": {"field": "g", "type": "quantitative", "scale": {"domain": [0.39, 3.62], "range": [444, 624], "nice": false, "zero": false}},
       "y": {"field": "med", "type": "quantitative", "scale": {"domain": [-0.0092, 0.311], "range": [168, 29.3], "nice": false, "zero": false}}}},
    {"data": {"name": "box"}, "transform": [{"filter": "datum.g == 3"}],
     "mark": {"type": "point", "shape": "M-23.5,-13.3L-10,0L-23.5,13.3ZM23.5,-13.3L10,0L23.5,13.3Z", "filled": true, "color": "#ffffff", "size": 4, "opacity": 1, "strokeWidth": 0},
     "encoding": {
       "x": {"field": "g", "type": "quantitative", "scale": {"domain": [0.39, 3.62], "range": [444, 624], "nice": false, "zero": false}},
       "y": {"field": "med", "type": "quantitative", "scale": {"domain": [-0.0092, 0.311], "range": [168, 29.3], "nice": false, "zero": false}}}},
    {"data": {"name": "out"}, "mark": {"type": "point", "filled": true, "color": "#000000", "size": 6, "opacity": 1},
     "encoding": {
       "x": {"field": "g", "type": "quantitative", "scale": {"domain": [0.39, 3.62], "range": [444, 624], "nice": false, "zero": false}},
       "y": {"field": "v", "type": "quantitative", "scale": {"domain": [-0.0092, 0.311], "range": [168, 29.3], "nice": false, "zero": false}}}},
    {"data": {"name": "brk"}, "mark": {"type": "line", "color": "#000000", "strokeWidth": 1.1},
     "encoding": {
       "x": {"field": "x", "type": "quantitative", "scale": {"domain": [0.39, 3.62], "range": [444, 624], "nice": false, "zero": false}},
       "y": {"field": "y", "type": "quantitative", "scale": {"domain": [-0.0092, 0.311], "range": [168, 29.3], "nice": false, "zero": false}},
       "detail": {"field": "b"}, "order": {"field": "o"}}},
    {"data": {"name": "ptxt"}, "mark": {"type": "text", "fontStyle": "italic", "fontSize": 10.5, "align": "left"},
     "encoding": {
       "x": {"field": "x", "type": "quantitative", "scale": {"domain": [0.39, 3.62], "range": [444, 624], "nice": false, "zero": false}},
       "y": {"field": "y", "type": "quantitative", "scale": {"domain": [-0.0092, 0.311], "range": [168, 29.3], "nice": false, "zero": false}},
       "text": {"value": "P"}}},
    {"data": {"name": "ptxt"}, "mark": {"type": "text", "fontSize": 10.5, "align": "left", "dx": 9.5},
     "encoding": {
       "x": {"field": "x", "type": "quantitative", "scale": {"domain": [0.39, 3.62], "range": [444, 624], "nice": false, "zero": false}},
       "y": {"field": "y", "type": "quantitative", "scale": {"domain": [-0.0092, 0.311], "range": [168, 29.3], "nice": false, "zero": false}},
       "text": {"field": "t"}}}
  ]},
  {"layer": [
    {"data": {"name": "hm"}, "mark": {"type": "rect"},
     "encoding": {
       "x": {"field": "i", "type": "quantitative", "bin": {"binned": true, "step": 1}, "scale": {"domain": [0, 40], "range": [485, 647.3], "nice": false, "zero": false}, "axis": null},
       "y": {"field": "g", "type": "nominal", "scale": {"domain": ["RAD1", "VPS72"], "range": [258, 321], "paddingInner": 0.2, "paddingOuter": 0}, "axis": null},
       "yOffset": {"field": "c", "type": "nominal", "scale": {"domain": ["High", "UT"]}},
       "color": {"field": "v", "type": "quantitative", "legend": null, "scale": {"domain": [-1, 0, 1], "range": ["#2747a6", "#000000", "#f2f21e"], "interpolate": "rgb"}}}},
    {"data": {"name": "lab"}, "mark": {"type": "text", "fontSize": 10.5, "align": "right", "color": "#000000"},
     "encoding": {
       "x": {"datum": -0.8, "type": "quantitative", "scale": {"domain": [0, 40], "range": [485, 647.3], "nice": false, "zero": false}, "axis": null},
       "y": {"field": "g", "type": "nominal", "scale": {"domain": ["RAD1", "VPS72"], "range": [258, 321], "paddingInner": 0.2, "paddingOuter": 0}, "axis": null},
       "yOffset": {"field": "c", "type": "nominal", "scale": {"domain": ["High", "UT"]}},
       "text": {"field": "suf"}}},
    {"data": {"name": "lab"}, "transform": [{"filter": "datum.c == 'High'"}], "mark": {"type": "text", "fontSize": 10.5, "align": "right", "fontStyle": "italic", "dx": -91.5, "color": "#000000"},
     "encoding": {
       "x": {"datum": -0.8, "type": "quantitative", "scale": {"domain": [0, 40], "range": [485, 647.3], "nice": false, "zero": false}, "axis": null},
       "y": {"field": "g", "type": "nominal", "scale": {"domain": ["RAD1", "VPS72"], "range": [258, 321], "paddingInner": 0.2, "paddingOuter": 0}, "axis": null},
       "yOffset": {"field": "c", "type": "nominal", "scale": {"domain": ["High", "UT"]}},
       "text": {"field": "name"}}},
    {"data": {"name": "lab"}, "transform": [{"filter": "datum.c == 'UT'"}], "mark": {"type": "text", "fontSize": 10.5, "align": "right", "fontStyle": "italic", "dx": -56.5, "color": "#000000"},
     "encoding": {
       "x": {"datum": -0.8, "type": "quantitative", "scale": {"domain": [0, 40], "range": [485, 647.3], "nice": false, "zero": false}, "axis": null},
       "y": {"field": "g", "type": "nominal", "scale": {"domain": ["RAD1", "VPS72"], "range": [258, 321], "paddingInner": 0.2, "paddingOuter": 0}, "axis": null},
       "yOffset": {"field": "c", "type": "nominal", "scale": {"domain": ["High", "UT"]}},
       "text": {"field": "name"}}},
    {"data": {"values": [{"g": "RAD1", "t": "Autocorrelation r = 0.14"}, {"g": "VPS72", "t": "Autocorrelation r = 0.87"}]},
     "mark": {"type": "text", "fontSize": 9.5, "fontWeight": "bold", "color": "#ffffff"},
     "encoding": {
       "x": {"datum": 20.9, "type": "quantitative", "scale": {"domain": [0, 40], "range": [485, 647.3], "nice": false, "zero": false}, "axis": null},
       "y": {"field": "g", "type": "nominal", "scale": {"domain": ["RAD1", "VPS72"], "range": [258, 321], "paddingInner": 0.2, "paddingOuter": 0}, "axis": null},
       "text": {"field": "t"}}}
  ]},
  {"layer": [
    {"data": {"values": [{}]}, "mark": {"type": "rect", "fillOpacity": 0, "stroke": "#000000", "strokeWidth": 1.2},
     "encoding": {
       "x": {"datum": -1.5, "type": "quantitative", "scale": {"domain": [-1.5, 31.1], "range": [413.3, 648.3], "nice": false, "zero": false}},
       "x2": {"datum": 31.1},
       "y": {"datum": -0.054, "type": "quantitative", "scale": {"domain": [-0.054, 1.038], "range": [556.7, 335], "nice": false, "zero": false}},
       "y2": {"datum": 1.038}}},
    {"data": {"name": "fit"}, "mark": {"type": "line", "color": "#000000", "strokeWidth": 1.3, "strokeDash": [4, 3]},
     "encoding": {
       "x": {"field": "sens", "type": "quantitative", "scale": {"domain": [-1.5, 31.1], "range": [413.3, 648.3], "nice": false, "zero": false}},
       "y": {"field": "ac", "type": "quantitative", "scale": {"domain": [-0.054, 1.038], "range": [556.7, 335], "nice": false, "zero": false}}}},
    {"data": {"name": "sc"}, "mark": {"type": "point", "filled": true, "color": "#000000", "size": 22, "opacity": 1},
     "encoding": {
       "x": {"field": "sens", "type": "quantitative", "scale": {"domain": [-1.5, 31.1], "range": [413.3, 648.3], "nice": false, "zero": false},
             "axis": {"orient": "bottom", "offset": -57.3, "values": [0, 5, 10, 15, 20, 25, 30], "domain": false, "tickSize": 3, "labelPadding": 0, "labelFontSize": 11, "title": "UV Single Mutant Sensitivity", "titleFontSize": 11, "titlePadding": 20}},
       "y": {"field": "ac", "type": "quantitative", "scale": {"domain": [-0.054, 1.038], "range": [556.7, 335], "nice": false, "zero": false},
             "axis": {"orient": "left", "offset": -413.3, "values": [0, 0.2, 0.4, 0.6, 0.8, 1], "format": ".1f", "domain": false, "tickSize": 4, "labelAngle": -90, "labelAlign": "center", "labelBaseline": "bottom", "labelPadding": 2, "labelFontSize": 11, "title": "Autocorrelation (High Dose vs. UT)", "titleFontSize": 11, "titlePadding": 4}}}},
    {"data": {"name": "sc"}, "transform": [{"filter": {"field": "gene", "oneOf": ["REV3", "REV7", "RAD23", "RAD2"]}}],
     "mark": {"type": "text", "align": "left", "dx": 2.5, "dy": -5, "fontSize": 9, "color": "#111111"},
     "encoding": {
       "x": {"field": "sens", "type": "quantitative", "scale": {"domain": [-1.5, 31.1], "range": [413.3, 648.3], "nice": false, "zero": false}},
       "y": {"field": "ac", "type": "quantitative", "scale": {"domain": [-0.054, 1.038], "range": [556.7, 335], "nice": false, "zero": false}},
       "text": {"field": "gene"}}},
    {"data": {"name": "sc"}, "transform": [{"filter": {"field": "gene", "oneOf": ["RAD5", "RAD16", "RAD7"]}}],
     "mark": {"type": "text", "align": "left", "dx": 1.5, "dy": 6.5, "fontSize": 9, "color": "#111111"},
     "encoding": {
       "x": {"field": "sens", "type": "quantitative", "scale": {"domain": [-1.5, 31.1], "range": [413.3, 648.3], "nice": false, "zero": false}},
       "y": {"field": "ac", "type": "quantitative", "scale": {"domain": [-0.054, 1.038], "range": [556.7, 335], "nice": false, "zero": false}},
       "text": {"field": "gene"}}},
    {"data": {"name": "sc"}, "transform": [{"filter": {"field": "gene", "oneOf": ["RAD18", "RAD4", "RAD1"]}}],
     "mark": {"type": "text", "align": "right", "dx": 1.5, "dy": -8.5, "fontSize": 9, "color": "#111111"},
     "encoding": {
       "x": {"field": "sens", "type": "quantitative", "scale": {"domain": [-1.5, 31.1], "range": [413.3, 648.3], "nice": false, "zero": false}},
       "y": {"field": "ac", "type": "quantitative", "scale": {"domain": [-0.054, 1.038], "range": [556.7, 335], "nice": false, "zero": false}},
       "text": {"field": "gene"}}},
    {"data": {"name": "sc"}, "transform": [{"filter": {"field": "gene", "oneOf": ["RAD14"]}}],
     "mark": {"type": "text", "align": "right", "dx": -3, "dy": -5, "fontSize": 9, "color": "#111111"},
     "encoding": {
       "x": {"field": "sens", "type": "quantitative", "scale": {"domain": [-1.5, 31.1], "range": [413.3, 648.3], "nice": false, "zero": false}},
       "y": {"field": "ac", "type": "quantitative", "scale": {"domain": [-0.054, 1.038], "range": [556.7, 335], "nice": false, "zero": false}},
       "text": {"field": "gene"}}},
    {"data": {"values": [{"sens": 30.1, "ac": 0.984, "t": "r = −0.629"}]}, "mark": {"type": "text", "align": "right", "fontSize": 9.5, "color": "#111111"},
     "encoding": {
       "x": {"field": "sens", "type": "quantitative", "scale": {"domain": [-1.5, 31.1], "range": [413.3, 648.3], "nice": false, "zero": false}},
       "y": {"field": "ac", "type": "quantitative", "scale": {"domain": [-0.054, 1.038], "range": [556.7, 335], "nice": false, "zero": false}},
       "text": {"field": "t"}}},
    {"data": {"values": [{"sens": 22.96, "ac": 0.923, "t": "< 8.9x10⁻⁵"}]}, "mark": {"type": "text", "align": "left", "fontSize": 9.5, "fontStyle": "italic", "color": "#111111"},
     "encoding": {
       "x": {"field": "sens", "type": "quantitative", "scale": {"domain": [-1.5, 31.1], "range": [413.3, 648.3], "nice": false, "zero": false}},
       "y": {"field": "ac", "type": "quantitative", "scale": {"domain": [-0.054, 1.038], "range": [556.7, 335], "nice": false, "zero": false}},
       "text": {"value": "P"}}},
    {"data": {"values": [{"sens": 22.96, "ac": 0.923, "t": "< 8.9x10⁻⁵"}]}, "mark": {"type": "text", "align": "left", "fontSize": 9.5, "dx": 9, "color": "#111111"},
     "encoding": {
       "x": {"field": "sens", "type": "quantitative", "scale": {"domain": [-1.5, 31.1], "range": [413.3, 648.3], "nice": false, "zero": false}},
       "y": {"field": "ac", "type": "quantitative", "scale": {"domain": [-0.054, 1.038], "range": [556.7, 335], "nice": false, "zero": false}},
       "text": {"field": "t"}}},
    {"data": {"values": [{"sens": -2.26, "ac": -0.155, "t": "(no"}, {"sens": -2.26, "ac": -0.212, "t": "sensitivity)"}]}, "mark": {"type": "text", "align": "left", "fontSize": 11, "color": "#000000"},
     "encoding": {
       "x": {"field": "sens", "type": "quantitative", "scale": {"domain": [-1.5, 31.1], "range": [413.3, 648.3], "nice": false, "zero": false}},
       "y": {"field": "ac", "type": "quantitative", "scale": {"domain": [-0.054, 1.038], "range": [556.7, 335], "nice": false, "zero": false}},
       "text": {"field": "t"}}},
    {"data": {"values": [{"sens": 31.6, "ac": -0.155, "t": "(extreme"}, {"sens": 31.6, "ac": -0.212, "t": "sensitivity)"}]}, "mark": {"type": "text", "align": "right", "fontSize": 11, "color": "#000000"},
     "encoding": {
       "x": {"field": "sens", "type": "quantitative", "scale": {"domain": [-1.5, 31.1], "range": [413.3, 648.3], "nice": false, "zero": false}},
       "y": {"field": "ac", "type": "quantitative", "scale": {"domain": [-0.054, 1.038], "range": [556.7, 335], "nice": false, "zero": false}},
       "text": {"field": "t"}}}
  ]}
]
}
